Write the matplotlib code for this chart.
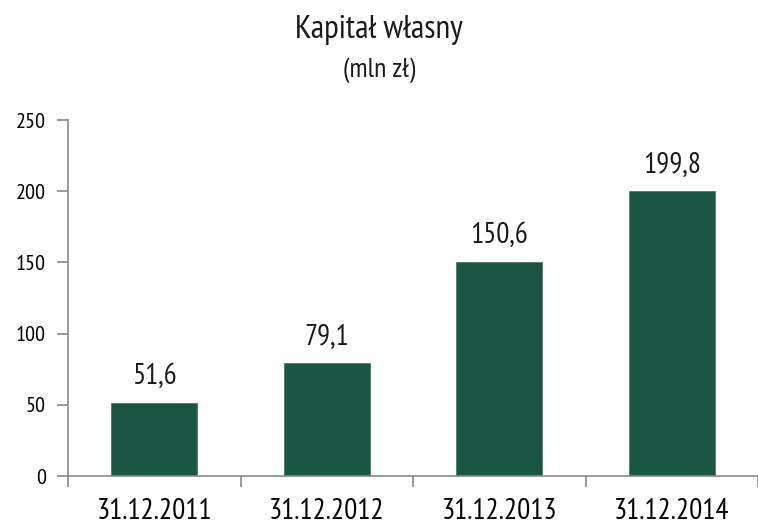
import matplotlib.pyplot as plt

dates = ['31.12.2011', '31.12.2012', '31.12.2013', '31.12.2014']
values = [51.6, 79.1, 150.6, 199.8]
labels = ['51,6', '79,1', '150,6', '199,8']

plt.rcParams['font.family'] = ['PT Sans Narrow', 'DejaVu Sans']
plt.rcParams['text.color'] = '#1a1a1a'

fig = plt.figure(figsize=(7.58, 5.26), dpi=100)
ax = fig.add_axes([68 / 758, 1 - 476 / 526, 690 / 758, 356 / 526])

x = list(range(len(dates)))
ax.bar(x, values, width=0.5, color='#1b5645', edgecolor='#4f7a6d', linewidth=0.6, zorder=2)
for xi, v, lab in zip(x, values, labels):
    ax.text(xi, v + 9, lab, ha='center', va='bottom', fontsize=21)

ax.set_xlim(-0.5, 3.5)
ax.set_ylim(0, 250)
ax.set_yticks([0, 50, 100, 150, 200, 250])
ax.set_xticks(x)
ax.set_xticklabels(dates, fontsize=21)
ax.set_xticks([-0.5, 0.5, 1.5, 2.5, 3.5], minor=True)
ax.tick_params(axis='x', which='major', length=0, pad=16)
ax.tick_params(axis='x', which='minor', length=8, color='#888888', width=1.2)
ax.tick_params(axis='y', length=8, color='#888888', width=1.2, labelsize=16, pad=8)

for s in ['top', 'right']:
    ax.spines[s].set_visible(False)
for s in ['left', 'bottom']:
    ax.spines[s].set_color('#888888')
    ax.spines[s].set_linewidth(1.2)

fig.text(0.5, 1 - 30 / 526, 'Kapitał własny', ha='center', va='center', fontsize=24)
fig.text(0.5, 1 - 70 / 526, '(mln zł)', ha='center', va='center', fontsize=20)

fig.savefig('out.png', dpi=100)
